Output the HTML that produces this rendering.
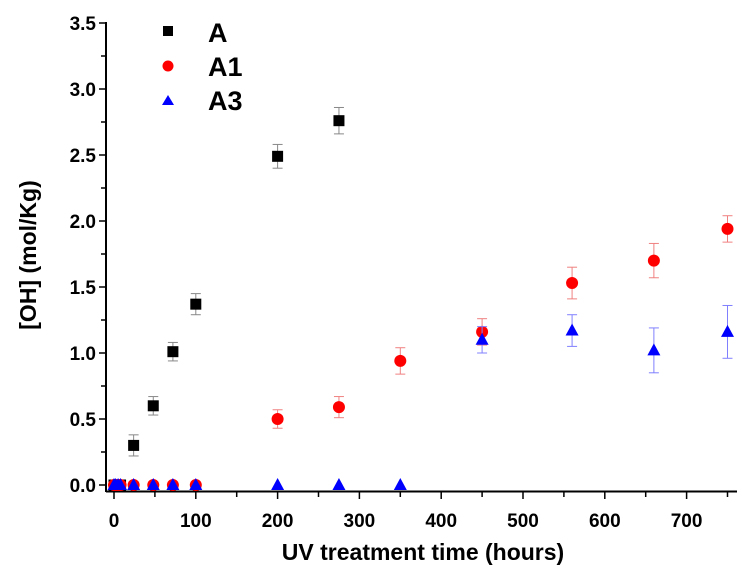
<!DOCTYPE html>
<html><head><meta charset="utf-8"><style>
body{margin:0;background:#fff}
svg text{font-family:"Liberation Sans",Arial,sans-serif;font-weight:bold}
</style></head><body>
<svg id="chart" width="750" height="576" xmlns="http://www.w3.org/2000/svg">
<g id="axes"></g>
<g id="marks"></g>
<g>
 <rect x="163" y="26" width="10" height="10" fill="#000"/>
 <text x="208" y="42" font-size="27">A</text>
 <circle cx="168" cy="66" r="5.5" fill="#f00"/>
 <text x="208" y="76" font-size="27">A1</text>
 <polygon points="162,105 174,105 168,95" fill="#00f"/>
 <text x="208" y="110" font-size="27">A3</text>
</g>
<text x="423" y="560" font-size="23" text-anchor="middle">UV treatment time (hours)</text>
<text transform="translate(36,255) rotate(-90)" font-size="23" text-anchor="middle">[OH] (mol/Kg)</text>
</svg>
<script>
const xTicks=[0,100,200,300,400,500,600,700];
const yTicks=[0,0.5,1,1.5,2,2.5,3,3.5];
const yTickLabels=["0.0","0.5","1.0","1.5","2.0","2.5","3.0","3.5"];
const aX=[0,2,5,8,24,48,72,100,200,275];
const aY=[0,0,0,0,0.30,0.60,1.01,1.37,2.49,2.76];
const aErr=[0,0,0,0,0.08,0.07,0.07,0.08,0.09,0.10];
const a1X=[0,2,5,8,24,48,72,100,200,275,350,450,560,660,750];
const a1Y=[0,0,0,0,0,0,0,0,0.50,0.59,0.94,1.16,1.53,1.70,1.94];
const a1Err=[0,0,0,0,0,0,0,0,0.07,0.08,0.10,0.10,0.12,0.13,0.10];
const a3X=[0,2,5,8,24,48,72,100,200,275,350,450,560,660,750];
const a3Y=[0,0,0,0,0,0,0,0,0,0,0,1.10,1.17,1.02,1.16];
const a3Err=[0,0,0,0,0,0,0,0,0,0,0,0.10,0.12,0.17,0.20];
const NS="http://www.w3.org/2000/svg";
const sx=v=>114+v*0.818;
const sy=v=>485-v*132;
function mk(tag,attrs,parent){const e=document.createElementNS(NS,tag);for(const k in attrs)e.setAttribute(k,attrs[k]);parent.appendChild(e);return e;}
const axes=document.getElementById('axes'),marks=document.getElementById('marks');
let l=mk('line',{x1:106,y1:491.5,x2:737,y2:491.5,stroke:'#000','stroke-width':2},axes);


l=mk('line',{x1:106,y1:492,x2:106,y2:22,stroke:'#000','stroke-width':2},axes);


for(let v=0;v<=750;v+=50){const t=mk('line',{x1:sx(v),y1:492,x2:sx(v),y2:v%100?497:499,stroke:'#000','stroke-width':1.5},axes);

}
xTicks.forEach(v=>{const t=mk('text',{x:sx(v),y:527,'font-size':19,'text-anchor':'middle'},axes);t.textContent=v;

});
for(let i=0;i<=14;i++){const v=i*0.25;const t=mk('line',{x1:106,y1:sy(v),x2:i%2?101:99,y2:sy(v),stroke:'#000','stroke-width':1.5},axes);

}
yTicks.forEach((v,i)=>{const t=mk('text',{x:96,y:sy(v)+7,'font-size':19,'text-anchor':'end'},axes);t.textContent=yTickLabels[i];

});
function series(xs,ys,es,color,ecolor,shape,name){
 xs.forEach((x,i)=>{
  const cx=sx(x),cy=sy(ys[i]);
  if(es[i]>0){const g=mk('g',{stroke:ecolor,'stroke-width':1},marks);
   
   
   mk('line',{x1:cx,y1:sy(ys[i]+es[i]),x2:cx,y2:sy(ys[i]-es[i])},g);
   mk('line',{x1:cx-5,y1:sy(ys[i]+es[i]),x2:cx+5,y2:sy(ys[i]+es[i])},g);
   mk('line',{x1:cx-5,y1:sy(ys[i]-es[i]),x2:cx+5,y2:sy(ys[i]-es[i])},g);}
  let m;
  if(shape==='sq')m=mk('rect',{x:cx-5.5,y:cy-5.5,width:11,height:11,fill:color},marks);
  else if(shape==='ci')m=mk('circle',{cx:cx,cy:cy,r:6,fill:color},marks);
  else m=mk('polygon',{points:`${cx-6.5},${cy+5} ${cx+6.5},${cy+5} ${cx},${cy-7}`,fill:color},marks);
  
  
 });
}
series(aX,aY,aErr,'#000','#888','sq','series-a');
series(a1X,a1Y,a1Err,'#f00','#f08080','ci','series-a1');
series(a3X,a3Y,a3Err,'#00f','#8080ff','tr','series-a3');
</script>
</body></html>
